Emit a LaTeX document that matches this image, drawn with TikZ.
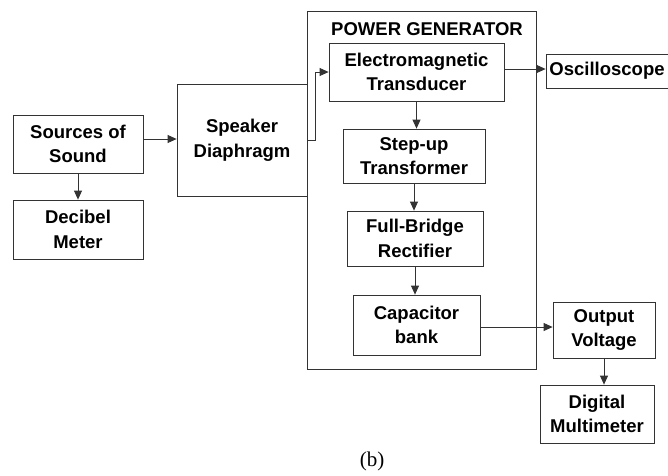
\documentclass[tikz,border=0pt]{standalone}
\usepackage{fontspec}
\setmainfont{Liberation Sans}
\newfontfamily\capfont{Liberation Serif}
\usepackage{tikz}
\usetikzlibrary{arrows.meta, positioning}
\tikzset{
    block/.style={rectangle, draw=black!80, line width=0.8pt, text centered, align=center, font=\bfseries\fontsize{18.5}{24.5}\selectfont},
    group/.style={rectangle, draw=black!80, line width=0.8pt},
    arrow/.style={-{Triangle[length=9pt,width=8pt]}, draw=black!80, line width=0.8pt}
}

\begin{document}
\begin{tikzpicture}[x=1pt, y=-1pt]
    \useasboundingbox (0,0) rectangle (668,475);

    % Power generator frame
    \node[group, minimum width=229pt, minimum height=358pt] (pg) at (421.5,190) {};
    \node[font=\bfseries\fontsize{18.5}{22}\selectfont] (pgtitle) at (427,29) {POWER GENERATOR};

    % Blocks
    \node[block, minimum width=130pt, minimum height=58pt] (src) at (78,144) {Sources of\\Sound};
    \node[block, minimum width=130pt, minimum height=59pt] (dbm) at (78,229.5) {Decibel\\Meter};
    \node[block, minimum width=130pt, minimum height=112pt] (spk) at (242,140) {Speaker\\Diaphragm};
    \node[block, minimum width=175pt, minimum height=58pt] (emt) at (416.5,72) {Electromagnetic\\Transducer};
    \node[block, minimum width=142pt, minimum height=54pt] (sut) at (414,156) {Step-up\\Transformer};
    \node[block, minimum width=136pt, minimum height=55pt] (fbr) at (415,238.5) {Full-Bridge\\Rectifier};
    \node[block, minimum width=127pt, minimum height=60pt] (cap) at (416.5,325) {Capacitor\\bank};
    \node[block, minimum width=122pt, minimum height=34pt] (osc) at (607,71) {Oscilloscope};
    \node[block, minimum width=102pt, minimum height=56pt] (out) at (604,330) {Output\\Voltage};
    \node[block, minimum width=114pt, minimum height=58pt] (dmm) at (597,414) {Digital\\Multimeter};

    % Caption
    \node[font=\capfont\fontsize{21}{24}\selectfont] (cap-b) at (372,461) {(b)};

    % Connections
    \draw[arrow] ([yshift=5pt]src.east) -- ([yshift=5pt]src.east -| spk.west);
    \draw[arrow] (src.south) -- (src.south |- dbm.north);
    \draw[arrow] (spk.east) -- ++(8,0) |- (emt.west);
    \draw[arrow] ([yshift=3pt]emt.east) -- ([yshift=3pt]emt.east -| osc.west);
    \draw[arrow] (emt.south) -- (emt.south |- sut.north);
    \draw[arrow] (sut.south) -- (sut.south |- fbr.north);
    \draw[arrow] (fbr.south) -- (fbr.south |- cap.north);
    \draw[arrow] ([yshift=-2pt]cap.east) -- ([yshift=-2pt]cap.east -| out.west);
    \draw[arrow] (out.south) -- (out.south |- dmm.north);
\end{tikzpicture}
\end{document}
